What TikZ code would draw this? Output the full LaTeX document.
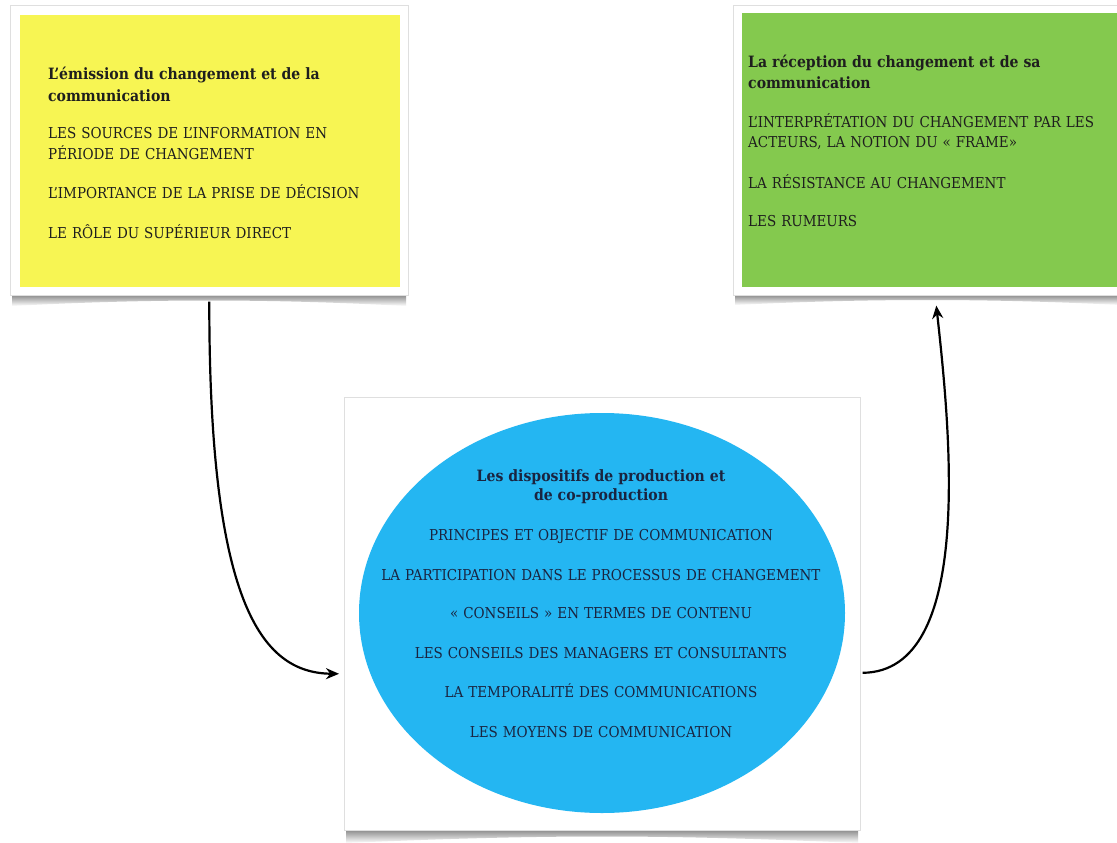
\documentclass[tikz,border=0pt]{standalone}
\usepackage{fontspec}
\setmainfont{DejaVu Serif Condensed}
\usetikzlibrary{shapes.geometric,arrows.meta,calc}
\definecolor{cyel}{HTML}{F7F553}
\definecolor{cgrn}{HTML}{84C94E}
\definecolor{cblu}{HTML}{24B6F2}
\definecolor{ctxt}{HTML}{1E1E1E}
\definecolor{ctxtb}{HTML}{1A2440}
\newcommand\ttl[1]{{\fontsize{15.6}{21}\selectfont\bfseries #1}}
\newcommand\shadowbar[4]{%
  \shade[top color=gray!90, bottom color=white]
    (#1,#3) -- (#2,#3) -- (#2,#3+#4) .. controls (#2/2+#1/2+60,#3+#4/3) and (#2/2+#1/2-60,#3+#4/3) .. (#1,#3+#4) -- cycle;}
\begin{document}
\begin{tikzpicture}[x=1pt,y=-1pt,
  frame/.style={draw=gray!25, line width=0.6pt, fill=white, anchor=north west, inner sep=0pt},
  panel/.style={anchor=north west, inner sep=0pt, draw=none},
  txt/.style={anchor=base west, inner sep=0pt, align=left, text width=375pt, text=ctxt,
    font=\fontsize{15}{21}\selectfont},
  ctxtstyle/.style={anchor=base, inner sep=0pt, align=center, text width=480pt, text=ctxtb,
    font=\fontsize{15}{20}\selectfont},
  arr/.style={line width=2.2pt, -{Stealth[length=13pt,width=11pt]}}]
\useasboundingbox (0,0) rectangle (1117,843);
\fill[white] (0,0) rectangle (1117,843);

% shadows
\shadowbar{12}{406}{295}{11}
\shadowbar{735}{1120}{295}{10}
\shadowbar{346}{858}{830}{13}

% frames
\node[frame, minimum width=398pt, minimum height=290pt] (yframe) at (10,5) {};
\node[frame, minimum width=392pt, minimum height=290pt] (gframe) at (733,5) {};
\node[frame, minimum width=516pt, minimum height=433pt] (cframe) at (344,397) {};

% coloured panels
\node[panel, fill=cyel, minimum width=380pt, minimum height=272pt] (yfill) at (20,15) {};
\node[panel, fill=cgrn, minimum width=380pt, minimum height=274pt] (gfill) at (742,13) {};
\node[ellipse, fill=cblu, draw=none, minimum width=486pt, minimum height=400pt, inner sep=0pt] (cell) at (602,613) {};

% texts
\node[txt] (ytext) at (48,80) {\ttl{L’émission du changement et de la}\\
\ttl{communication}\\[17pt]
LES SOURCES DE L’INFORMATION EN\\
PÉRIODE DE CHANGEMENT\\[18pt]
L’IMPORTANCE DE LA PRISE DE DÉCISION\\[19pt]
LE RÔLE DU SUPÉRIEUR DIRECT};

\node[txt] (gtext) at (748,67) {\ttl{La réception du changement et de sa}\\
\ttl{communication}\\[18pt]
L’INTERPRÉTATION DU CHANGEMENT PAR LES\\
ACTEURS, LA NOTION DU « FRAME»\\[20pt]
LA RÉSISTANCE AU CHANGEMENT\\[17pt]
LES RUMEURS};

\node[ctxtstyle] (ctext) at (601,481) {\ttl{Les dispositifs de production et}\\[-1pt]
\ttl{de co-production}\\[20pt]
PRINCIPES ET OBJECTIF DE COMMUNICATION\\[20pt]
LA PARTICIPATION DANS LE PROCESSUS DE CHANGEMENT\\[18pt]
« CONSEILS » EN TERMES DE CONTENU\\[20pt]
LES CONSEILS DES MANAGERS ET CONSULTANTS\\[19pt]
LA TEMPORALITÉ DES COMMUNICATIONS\\[20pt]
LES MOYENS DE COMMUNICATION};

% connectors
\draw[arr] ([yshift=-6pt]yframe.south) .. controls (209,600) and (260,673) .. ([yshift=-60pt,xshift=-5pt]cframe.west);
\draw[arr] ([yshift=-59pt,xshift=2pt]cframe.east) .. controls (975,672) and (950,430) .. ([xshift=7pt,yshift=-10pt]gframe.south);
\end{tikzpicture}
\end{document}
